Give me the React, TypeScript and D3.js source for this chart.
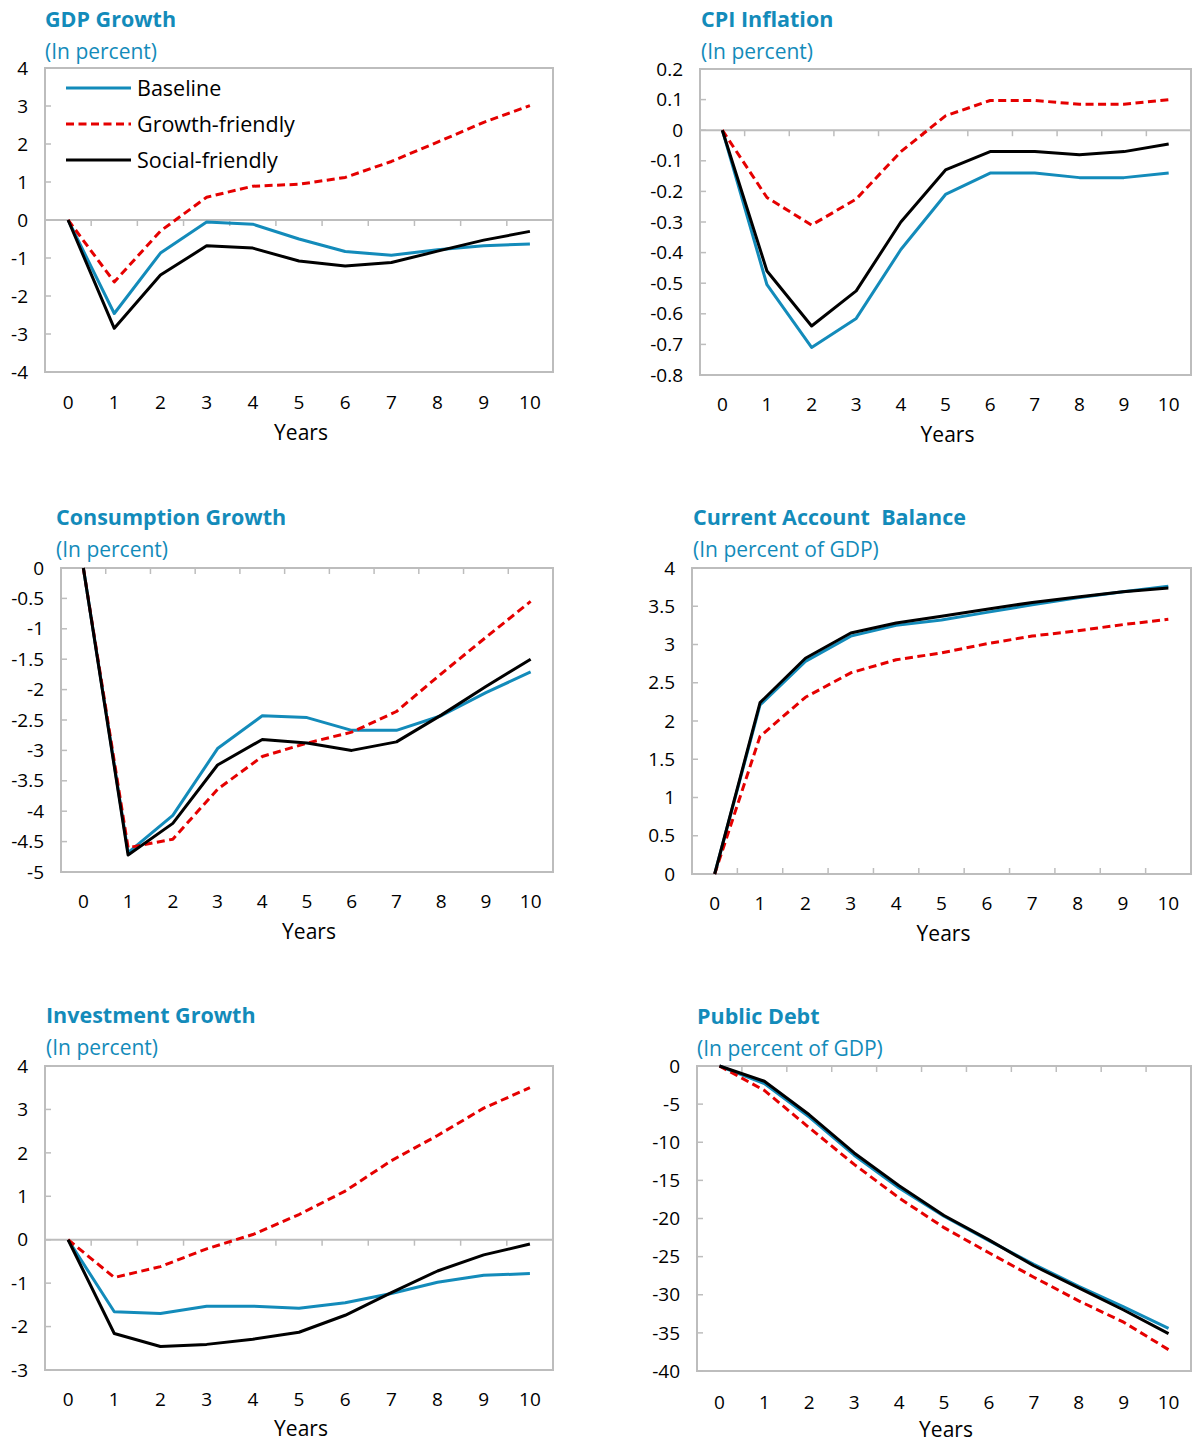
import React from 'react';
import * as d3 from 'd3';

const years = [0, 1, 2, 3, 4, 5, 6, 7, 8, 9, 10];
const seriesNames = ['Baseline', 'Growth-friendly', 'Social-friendly'];

// GDP growth, in percent
const gdpBaseline = [0, -2.46, -0.87, -0.05, -0.11, -0.5, -0.83, -0.93, -0.78, -0.68, -0.63];
const gdpGrowth = [0, -1.63, -0.29, 0.6, 0.89, 0.94, 1.12, 1.54, 2.05, 2.57, 3.01];
const gdpSocial = [0, -2.85, -1.45, -0.68, -0.74, -1.08, -1.21, -1.12, -0.82, -0.53, -0.3];

// CPI inflation, in percent
const cpiBaseline = [0, -0.505, -0.71, -0.615, -0.39, -0.21, -0.14, -0.14, -0.155, -0.155, -0.14];
const cpiGrowth = [0, -0.22, -0.31, -0.225, -0.07, 0.047, 0.097, 0.097, 0.085, 0.085, 0.1];
const cpiSocial = [0, -0.46, -0.64, -0.525, -0.3, -0.13, -0.07, -0.07, -0.08, -0.07, -0.045];

// Consumption growth, in percent
const consBaseline = [0, -4.68, -4.07, -2.97, -2.43, -2.46, -2.67, -2.67, -2.43, -2.05, -1.71];
const consGrowth = [0, -4.6, -4.46, -3.64, -3.1, -2.88, -2.7, -2.36, -1.74, -1.14, -0.55];
const consSocial = [0, -4.72, -4.2, -3.24, -2.82, -2.88, -3.0, -2.86, -2.42, -1.95, -1.5];

// Current account balance, in percent of GDP
const caBaseline = [0, 2.21, 2.78, 3.11, 3.25, 3.32, 3.42, 3.52, 3.61, 3.69, 3.76];
const caGrowth = [0, 1.8, 2.31, 2.63, 2.8, 2.89, 3.01, 3.11, 3.18, 3.26, 3.33];
const caSocial = [0, 2.24, 2.82, 3.15, 3.28, 3.37, 3.46, 3.55, 3.62, 3.69, 3.74];

// Investment growth, in percent
const invBaseline = [0, -1.66, -1.7, -1.53, -1.53, -1.58, -1.45, -1.24, -0.98, -0.82, -0.78];
const invGrowth = [0, -0.87, -0.62, -0.21, 0.12, 0.58, 1.12, 1.82, 2.4, 3.03, 3.5];
const invSocial = [0, -2.16, -2.46, -2.41, -2.29, -2.13, -1.74, -1.22, -0.72, -0.35, -0.1];

// Public debt, in percent of GDP
const debtBaseline = [0, -2.3, -6.7, -11.7, -16.0, -19.7, -22.9, -26.0, -28.9, -31.6, -34.4];
const debtGrowth = [0, -3.2, -8.1, -12.9, -17.3, -21.2, -24.5, -27.7, -30.8, -33.6, -37.2];
const debtSocial = [0, -2.0, -6.4, -11.4, -15.7, -19.6, -22.8, -26.2, -29.1, -32.0, -35.1];

const BLUE = '#138bba';
const RED = '#e50000';
const BLACK = '#000';
const GRID = '#bdbdbd';
const FONT = '"Open Sans", "Noto Sans", sans-serif';

const panels = [
  {
    title: 'GDP Growth', sub: '(In percent)', tx: 45, ty: 20,
    box: [45, 68, 553, 372], domain: [-4, 4], step: 1, tickDir: 1,
    xlab: 402, ylab: 433, data: [gdpBaseline, gdpGrowth, gdpSocial], legend: true,
  },
  {
    title: 'CPI Inflation', sub: '(In percent)', tx: 701, ty: 20,
    box: [700, 69, 1191, 375], domain: [-0.8, 0.2], step: 0.1, tickDir: 1,
    xlab: 404, ylab: 435, data: [cpiBaseline, cpiGrowth, cpiSocial],
  },
  {
    title: 'Consumption Growth', sub: '(In percent)', tx: 56, ty: 518,
    box: [61, 568, 553, 872], domain: [-5, 0], step: 0.5, tickDir: 1,
    xlab: 901, ylab: 932, data: [consBaseline, consGrowth, consSocial],
  },
  {
    title: 'Current Account  Balance', sub: '(In percent of GDP)', tx: 693, ty: 518,
    box: [692, 568, 1191, 874], domain: [0, 4], step: 0.5, tickDir: -1,
    xlab: 903, ylab: 934, data: [caBaseline, caGrowth, caSocial],
  },
  {
    title: 'Investment Growth', sub: '(In percent)', tx: 46, ty: 1016,
    box: [45, 1066, 553, 1370], domain: [-3, 4], step: 1, tickDir: 1,
    xlab: 1399, ylab: 1429, data: [invBaseline, invGrowth, invSocial],
  },
  {
    title: 'Public Debt', sub: '(In percent of GDP)', tx: 697, ty: 1017,
    box: [697, 1066, 1191, 1371], domain: [-40, 0], step: 5, tickDir: 1,
    xlab: 1402, ylab: 1430, data: [debtBaseline, debtGrowth, debtSocial],
  },
];

const styles = [
  { color: BLUE, dash: undefined },
  { color: RED, dash: '8 4.5' },
  { color: BLACK, dash: undefined },
];

function fmt(v: number) {
  const r = Math.round(v * 100) / 100;
  return String(r === 0 ? 0 : r);
}

function Panel({ p }: { p: any }) {
  const [l, t, r, b] = p.box;
  const x = d3.scalePoint<number>().domain(years).range([l, r]).padding(0.5);
  const stepX = x.step();
  const y = d3.scaleLinear().domain(p.domain).range([b, t]);
  const n = Math.round((p.domain[1] - p.domain[0]) / p.step);
  const yTicks = d3.range(n + 1).map((i) => p.domain[0] + i * p.step);
  const y0 = y(0);
  const line = d3
    .line<number>()
    .x((_, i) => x(years[i]) as number)
    .y((d) => y(d));

  return (
    <g>
      <text
        x={p.tx}
        y={p.ty + 7}
        fill={BLUE}
        fontSize={21.5}
        fontWeight="bold"
        fontFamily={FONT}
        style={{ whiteSpace: 'pre' }}
      >
        {p.title}
      </text>
      <text x={p.tx} y={p.ty + 39} fill={BLUE} fontSize={21} fontFamily={FONT}>
        {p.sub}
      </text>
      <rect x={l} y={t} width={r - l} height={b - t} fill="none" stroke={GRID} strokeWidth={2} />
      {yTicks.map((v) => (
        <g key={v}>
          <line x1={l} x2={l + 6} y1={y(v)} y2={y(v)} stroke={GRID} strokeWidth={1.5} />
          <text
            x={l - 17}
            y={y(v)}
            dy="0.35em"
            textAnchor="end"
            fontSize={19}
            fontFamily={FONT}
            fill="#000"
          >
            {fmt(v)}
          </text>
        </g>
      ))}
      <line x1={l} x2={r} y1={y0} y2={y0} stroke={GRID} strokeWidth={2} />
      {years.slice(1).map((yr) => {
        const bx = l + yr * stepX;
        return (
          <line key={yr} x1={bx} x2={bx} y1={y0} y2={y0 + 6 * p.tickDir} stroke={GRID} strokeWidth={1.5} />
        );
      })}
      {years.map((yr) => (
        <text
          key={yr}
          x={x(yr)}
          y={p.xlab}
          dy="0.35em"
          textAnchor="middle"
          fontSize={19}
          fontFamily={FONT}
          fill="#000"
        >
          {yr}
        </text>
      ))}
      <text
        x={(l + r) / 2 + 2}
        y={p.ylab}
        dy="0.35em"
        textAnchor="middle"
        fontSize={21}
        fontFamily={FONT}
        fill="#000"
      >
        Years
      </text>
      {p.data.map((d: number[], i: number) => (
        <path
          key={i}
          d={line(d) as string}
          fill="none"
          stroke={styles[i].color}
          strokeWidth={3}
          strokeDasharray={styles[i].dash}
          strokeLinejoin="round"
        />
      ))}
      {p.legend &&
        seriesNames.map((name, i) => (
          <g key={name}>
            <line
              x1={66}
              x2={131}
              y1={88 + i * 36}
              y2={88 + i * 36}
              stroke={styles[i].color}
              strokeWidth={3}
              strokeDasharray={styles[i].dash}
            />
            <text x={137} y={88 + i * 36} dy="0.35em" fontSize={21.5} fontFamily={FONT} fill="#000">
              {name}
            </text>
          </g>
        ))}
    </g>
  );
}

export default function App() {
  return (
    <svg
      width={1193}
      height={1444}
      style={{ position: 'absolute', left: 0, top: 0, background: '#fff' }}
    >
      {panels.map((p) => (
        <Panel key={p.title} p={p} />
      ))}
    </svg>
  );
}
